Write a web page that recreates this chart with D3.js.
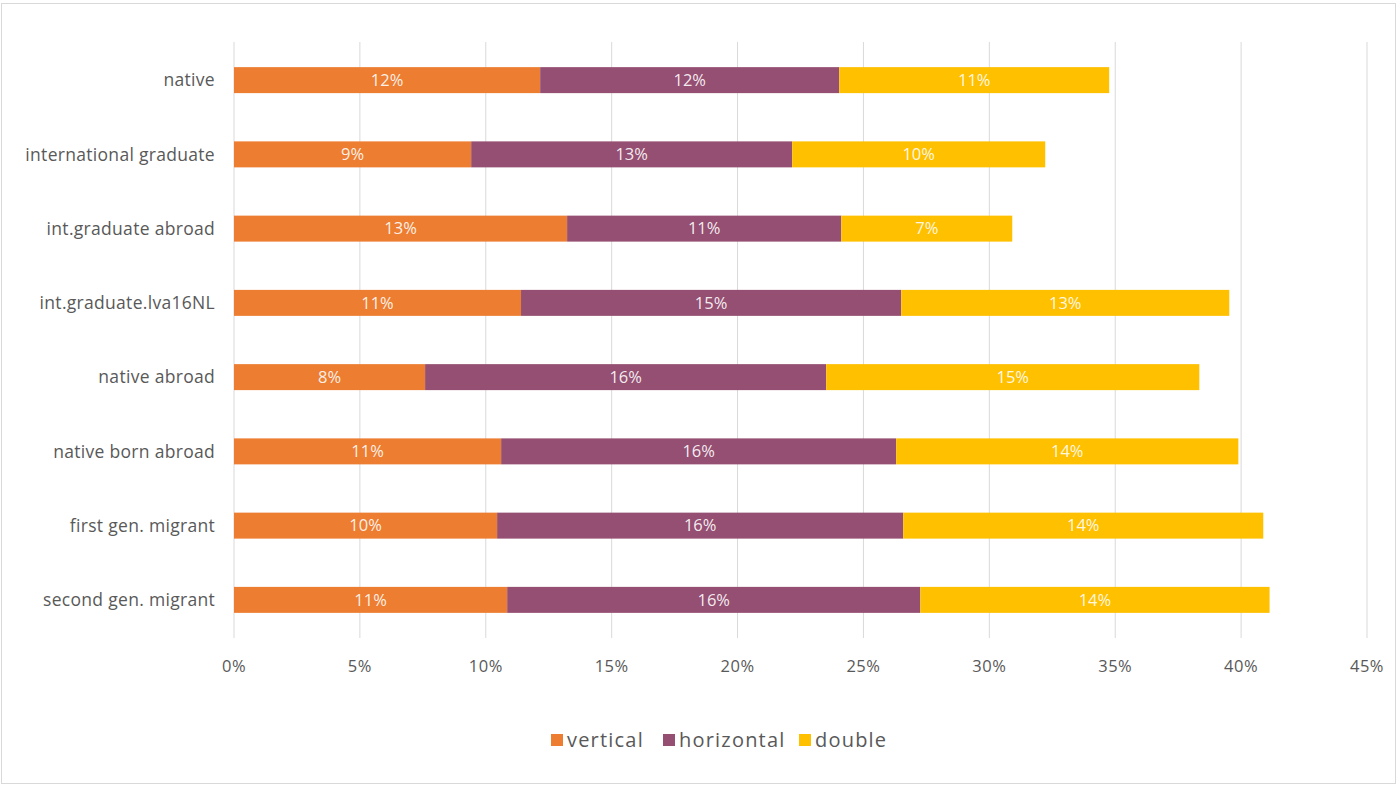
<!DOCTYPE html>
<html>
<head>
<meta charset="utf-8">
<script src="https://cdn.jsdelivr.net/npm/d3@7"></script>
<style>
  body { margin: 0; background: #fff; }
  svg { font-family: "Open Sans", "Noto Sans", sans-serif; }
</style>
</head>
<body>
<svg id="chart" width="1400" height="787"></svg>
<script>
const categories = ["native", "international graduate", "int.graduate abroad", "int.graduate.lva16NL",
    "native abroad", "native born abroad", "first gen. migrant", "second gen. migrant"];
const vertical = [12.16, 9.42, 13.23, 11.40, 7.59, 10.61, 10.45, 10.85];
const horizontal = [11.88, 12.75, 10.89, 15.10, 15.93, 15.69, 16.13, 16.41];
const double = [10.72, 10.05, 6.79, 13.03, 14.82, 13.59, 14.30, 13.87];
const seriesNames = ["vertical", "horizontal", "double"];
const colors = ["#ED7D31", "#954F72", "#FFC000"];
const xTicks = [0, 5, 10, 15, 20, 25, 30, 35, 40, 45];

const svg = d3.select("#chart");
const margin = { top: 42, right: 33, bottom: 150, left: 234 };
const width = 1400, height = 787;

// chart border
svg.append("rect")
    .attr("x", 1.5).attr("y", 3.5)
    .attr("width", 1394).attr("height", 780)
    .attr("fill", "#fff")
    .attr("stroke", "#d9d9d9");

const rows = categories.map((c, i) => ({
    cat: c, vertical: vertical[i], horizontal: horizontal[i], double: double[i]
}));
const stacked = d3.stack().keys(seriesNames)(rows);

const x = d3.scaleLinear().domain([0, 45]).range([margin.left, width - margin.right]);
const y = d3.scaleBand().domain(categories)
    .range([margin.top + 1, 637])
    .paddingInner(0.65).paddingOuter(0.325);

// gridlines
svg.append("g")
    .selectAll("line")
    .data(xTicks)
    .join("line")
    .attr("x1", d => x(d)).attr("x2", d => x(d))
    .attr("y1", margin.top).attr("y2", 638)
    .attr("stroke", "#d9d9d9")
    .attr("stroke-width", 1);

// x tick labels
svg.append("g")
    .selectAll("text")
    .data(xTicks)
    .join("text")
    .attr("x", d => x(d))
    .attr("y", 666)
    .attr("dy", "0.35em")
    .attr("text-anchor", "middle")
    .attr("font-size", 16.5)
    .attr("letter-spacing", 0.5)
    .attr("fill", "#595959")
    .text(d => d + "%");

// y category labels
svg.append("g")
    .selectAll("text")
    .data(categories)
    .join("text")
    .attr("x", margin.left - 19)
    .attr("y", d => y(d) + y.bandwidth() / 2)
    .attr("dy", "0.35em")
    .attr("text-anchor", "end")
    .attr("font-size", 17.5)
    .attr("letter-spacing", 0.3)
    .attr("fill", "#595959")
    .text(d => d);

// bars
const layer = svg.append("g")
    .selectAll("g")
    .data(stacked)
    .join("g")
    .attr("fill", (d, i) => colors[i]);

layer.selectAll("rect")
    .data(d => d)
    .join("rect")
    .attr("x", d => x(d[0]))
    .attr("y", d => y(d.data.cat))
    .attr("width", d => x(d[1]) - x(d[0]))
    .attr("height", y.bandwidth());

layer.selectAll("text")
    .data(d => d)
    .join("text")
    .attr("x", d => (x(d[0]) + x(d[1])) / 2)
    .attr("y", d => y(d.data.cat) + y.bandwidth() / 2)
    .attr("dy", "0.35em")
    .attr("text-anchor", "middle")
    .attr("font-size", 16.5)
    .attr("fill", "#ffffff")
    .attr("fill-opacity", 0.9)
    .text(d => Math.round(d[1] - d[0]) + "%");

// legend
const legendItems = [
    { name: "vertical", x: 551 },
    { name: "horizontal", x: 663 },
    { name: "double", x: 799 }
];
const legend = svg.append("g")
    .selectAll("g")
    .data(legendItems)
    .join("g")
    .attr("transform", d => `translate(${d.x},740)`);

legend.append("rect")
    .attr("x", 0).attr("y", -6)
    .attr("width", 12).attr("height", 12)
    .attr("fill", (d, i) => colors[i]);

legend.append("text")
    .attr("x", 16)
    .attr("dy", "0.35em")
    .attr("font-size", 20)
    .attr("letter-spacing", 1.2)
    .attr("fill", "#595959")
    .text(d => d.name);
</script>
</body>
</html>
